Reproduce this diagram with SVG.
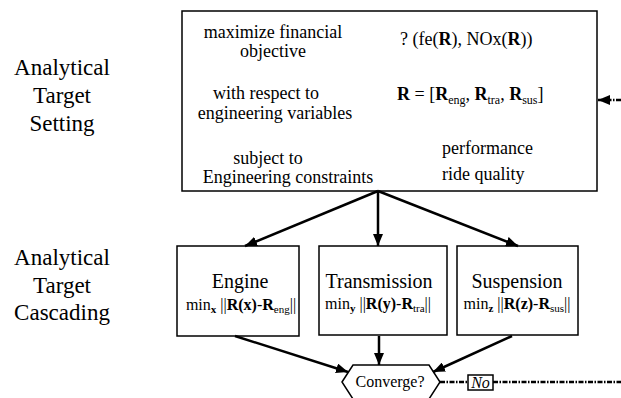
<svg xmlns="http://www.w3.org/2000/svg" width="621" height="398" viewBox="0 0 621 398">
<defs>
<marker id="ah" markerUnits="userSpaceOnUse" markerWidth="12" markerHeight="10" viewBox="0 0 12 10" refX="12" refY="5" orient="auto">
<path d="M0,0 L12,5 L0,10 z" fill="#000"/>
</marker>
</defs>
<g id="labels" text-anchor="middle" font-size="23" fill="#000">
<text font-family="Liberation Serif" x="62" y="75">Analytical</text>
<text font-family="Liberation Serif" x="62" y="103">Target</text>
<text font-family="Liberation Serif" x="62" y="131">Setting</text>
<text font-family="Liberation Serif" x="62" y="265">Analytical</text>
<text font-family="Liberation Serif" x="62" y="293">Target</text>
<text font-family="Liberation Serif" x="62" y="320">Cascading</text>
</g>
<g id="ats" font-size="18" fill="#000">
<rect x="182" y="11" width="415" height="180" fill="#fff" stroke="#000" stroke-width="1.5"/>
<text font-family="Liberation Serif" text-anchor="middle" x="273" y="38">maximize financial</text>
<text font-family="Liberation Serif" text-anchor="middle" x="273" y="57">objective</text>
<text font-family="Liberation Serif" text-anchor="middle" x="266" y="99">with respect to</text>
<text font-family="Liberation Serif" text-anchor="middle" x="275" y="119">engineering variables</text>
<text font-family="Liberation Serif" text-anchor="middle" x="268" y="164">subject to</text>
<text font-family="Liberation Serif" text-anchor="middle" x="288" y="183">Engineering constraints</text>
<text font-family="Liberation Serif" x="400" y="45">? (fe(<tspan font-weight="bold">R</tspan>), NOx(<tspan font-weight="bold">R</tspan>))</text>
<text font-family="Liberation Serif" x="397" y="100"><tspan font-weight="bold">R</tspan> = [<tspan font-weight="bold">R</tspan><tspan font-size="12" dy="4">eng</tspan><tspan dy="-4">, </tspan><tspan font-weight="bold">R</tspan><tspan font-size="12" dy="4">tra</tspan><tspan dy="-4">, </tspan><tspan font-weight="bold">R</tspan><tspan font-size="12" dy="4">sus</tspan><tspan dy="-4">]</tspan></text>
<text font-family="Liberation Serif" x="442" y="154">performance</text>
<text font-family="Liberation Serif" x="442" y="180">ride quality</text>
</g>
<g id="engine" fill="#000">
<rect x="177" y="246" width="122" height="90" fill="#fff" stroke="#000" stroke-width="1.5"/>
<text font-family="Liberation Serif" font-size="20" text-anchor="middle" x="240" y="288">Engine</text>
<text font-family="Liberation Serif" font-size="16" text-anchor="middle" x="241" y="310">min<tspan font-weight="bold" font-size="11" dy="3">x</tspan><tspan dy="-3"> ||</tspan><tspan font-weight="bold">R(x)</tspan>-<tspan font-weight="bold">R</tspan><tspan font-size="11" dy="3">eng</tspan><tspan dy="-3">||</tspan></text>
</g>
<g id="transmission" fill="#000">
<rect x="319" y="246" width="128" height="89" fill="#fff" stroke="#000" stroke-width="1.5"/>
<text font-family="Liberation Serif" font-size="20" text-anchor="middle" x="379" y="288">Transmission</text>
<text font-family="Liberation Serif" font-size="16" text-anchor="middle" x="378" y="309">min<tspan font-weight="bold" font-size="11" dy="3">y</tspan><tspan dy="-3"> ||</tspan><tspan font-weight="bold">R(y)</tspan>-<tspan font-weight="bold">R</tspan><tspan font-size="11" dy="3">tra</tspan><tspan dy="-3">||</tspan></text>
</g>
<g id="suspension" fill="#000">
<rect x="457" y="246" width="121" height="89" fill="#fff" stroke="#000" stroke-width="1.5"/>
<text font-family="Liberation Serif" font-size="20" text-anchor="middle" x="517" y="288">Suspension</text>
<text font-family="Liberation Serif" font-size="16" text-anchor="middle" x="517" y="309">min<tspan font-weight="bold" font-size="11" dy="3">z</tspan><tspan dy="-3"> ||</tspan><tspan font-weight="bold">R(z)</tspan>-<tspan font-weight="bold">R</tspan><tspan font-size="11" dy="3">sus</tspan><tspan dy="-3">||</tspan></text>
</g>
<g id="converge" fill="#000">
<polygon points="342,382 353,365 429,365 440,382 429,399 353,399" fill="#fff" stroke="#000" stroke-width="1.5"/>
<text font-family="Liberation Serif" x="390" y="387" font-size="16" text-anchor="middle">Converge?</text>
</g>
<g id="no" fill="#000">
<rect x="468" y="375" width="25" height="15" fill="#fff" stroke="#000" stroke-width="1.5"/>
<text font-family="Liberation Serif" x="480.5" y="388" font-size="16" font-style="italic" text-anchor="middle">No</text>
</g>
<g id="connectors" stroke="#000" stroke-width="2.5" fill="none">
<line x1="378" y1="191" x2="245" y2="246" marker-end="url(#ah)"/>
<line x1="378" y1="191" x2="378" y2="246" marker-end="url(#ah)"/>
<line x1="378" y1="191" x2="518" y2="246" marker-end="url(#ah)"/>
<line x1="235" y1="336" x2="348" y2="372" marker-end="url(#ah)"/>
<line x1="379" y1="336" x2="379" y2="365" marker-end="url(#ah)"/>
<line x1="512" y1="336" x2="433" y2="372" marker-end="url(#ah)"/>
<line x1="440" y1="382" x2="468" y2="382" stroke-dasharray="5 1.5 1.5 1.5"/>
<line x1="493" y1="382" x2="621" y2="382" stroke-dasharray="5 1.5 1.5 1.5"/>
<line x1="621" y1="100" x2="598" y2="100" stroke-dasharray="5 1.5 1.5 1.5" marker-end="url(#ah)"/>
</g>
</svg>
